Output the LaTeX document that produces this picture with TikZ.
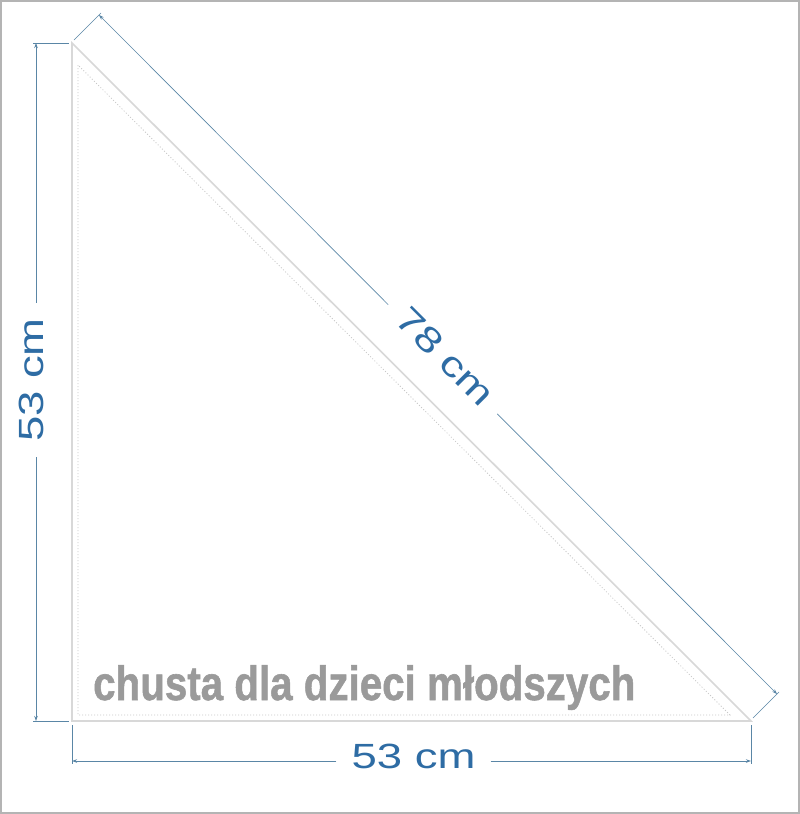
\documentclass[tikz,border=0pt]{standalone}
\usepackage{fontspec}
\setmainfont{Liberation Sans}
\newfontfamily\capfont[FakeBold=1.2]{Liberation Sans Bold}
\usetikzlibrary{arrows.meta,calc}
\definecolor{dimblue}{HTML}{2E6CA4}
\definecolor{dimline}{HTML}{5A86A6}
\definecolor{triline}{HTML}{D8D8D8}
\definecolor{dotgray}{HTML}{C8C8C8}
\definecolor{framegray}{HTML}{B4B4B4}
\definecolor{textgray}{HTML}{9A9A9A}
\tikzset{
  dimarrow/.style={draw=dimline, line width=0.9pt, -{Stealth[length=5pt,width=3.5pt]}},
  extline/.style={draw=dimline, line width=0.9pt},
  dimlabel/.style={text=dimblue, font=\fontsize{35}{40}\selectfont, inner xsep=15pt, inner ysep=0pt},
  triangleline/.style={draw=triline, line width=1.6pt},
  dotline/.style={draw=dotgray, line width=0.8pt, dash pattern=on 1pt off 2pt},
}
\begin{document}
\begin{tikzpicture}[x=1pt,y=-1pt]
\useasboundingbox (0,0) rectangle (800,814);
\fill[white] (0,0) rectangle (800,814);
\draw[framegray, line width=2pt] (1,1) rectangle (798.5,812.5);
% triangle
\coordinate (A) at (72,43);
\coordinate (B) at (72,721);
\coordinate (C) at (751,721);
\draw[triangleline, line join=miter] (A) -- (B) -- (C) -- cycle;
\coordinate (a) at (78,65);
\coordinate (b) at (78,715);
\coordinate (c) at (730,715);
\draw[dotline] (a) -- (b) -- (c) -- cycle;
% left dimension
\coordinate (L1) at (36,43);
\coordinate (L2) at (36,721);
\coordinate (L1e) at (33,43);
\coordinate (L1f) at (69,43);
\coordinate (L2e) at (33,721);
\coordinate (L2f) at (69,721);
\draw[extline] (L1e) -- (L1f);
\draw[extline] (L2e) -- (L2f);
\node[dimlabel, rotate=90, anchor=base] (Llbl) at (43,380) {\scalebox{1.3}[1]{53 cm}};
\draw[dimarrow] ($(L1)!(Llbl.east)!(L2)$) -- (L1);
\draw[dimarrow] ($(L1)!(Llbl.west)!(L2)$) -- (L2);
% bottom dimension
\coordinate (D1) at (72,761);
\coordinate (D2) at (751,761);
\coordinate (D1e) at (72,725);
\coordinate (D1f) at (72,764);
\coordinate (D2e) at (751,725);
\coordinate (D2f) at (751,764);
\draw[extline] (D1e) -- (D1f);
\draw[extline] (D2e) -- (D2f);
\node[dimlabel, anchor=base] (Dlbl) at (413.5,768) {\scalebox{1.3}[1]{53 cm}};
\draw[dimarrow] ($(D1)!(Dlbl.west)!(D2)$) -- (D1);
\draw[dimarrow] ($(D1)!(Dlbl.east)!(D2)$) -- (D2);
% diagonal dimension
\coordinate (H1) at (99,15);
\coordinate (H2) at (777,694);
\coordinate (H1e) at (74,40);
\coordinate (H1f) at (101,13);
\coordinate (H2e) at (753,718);
\coordinate (H2f) at (779,692);
\draw[extline, line width=0.6pt] (H1e) -- (H1f);
\draw[extline, line width=0.6pt] (H2e) -- (H2f);
\node[dimlabel, rotate=-45, anchor=base] (Hlbl) at (437,365) {\scalebox{1.3}[1]{78 cm}};
\draw[dimarrow, line width=0.6pt] ($(H1)!(Hlbl.west)!(H2)$) -- (H1);
\draw[dimarrow, line width=0.6pt] ($(H1)!(Hlbl.east)!(H2)$) -- (H2);
% caption
\node[text=textgray, anchor=base west, inner sep=0pt, font=\capfont\fontsize{48}{52}\selectfont] (cap) at (93,700) {\scalebox{0.84}[1]{chusta dla dzieci młodszych}};
\end{tikzpicture}
\end{document}
